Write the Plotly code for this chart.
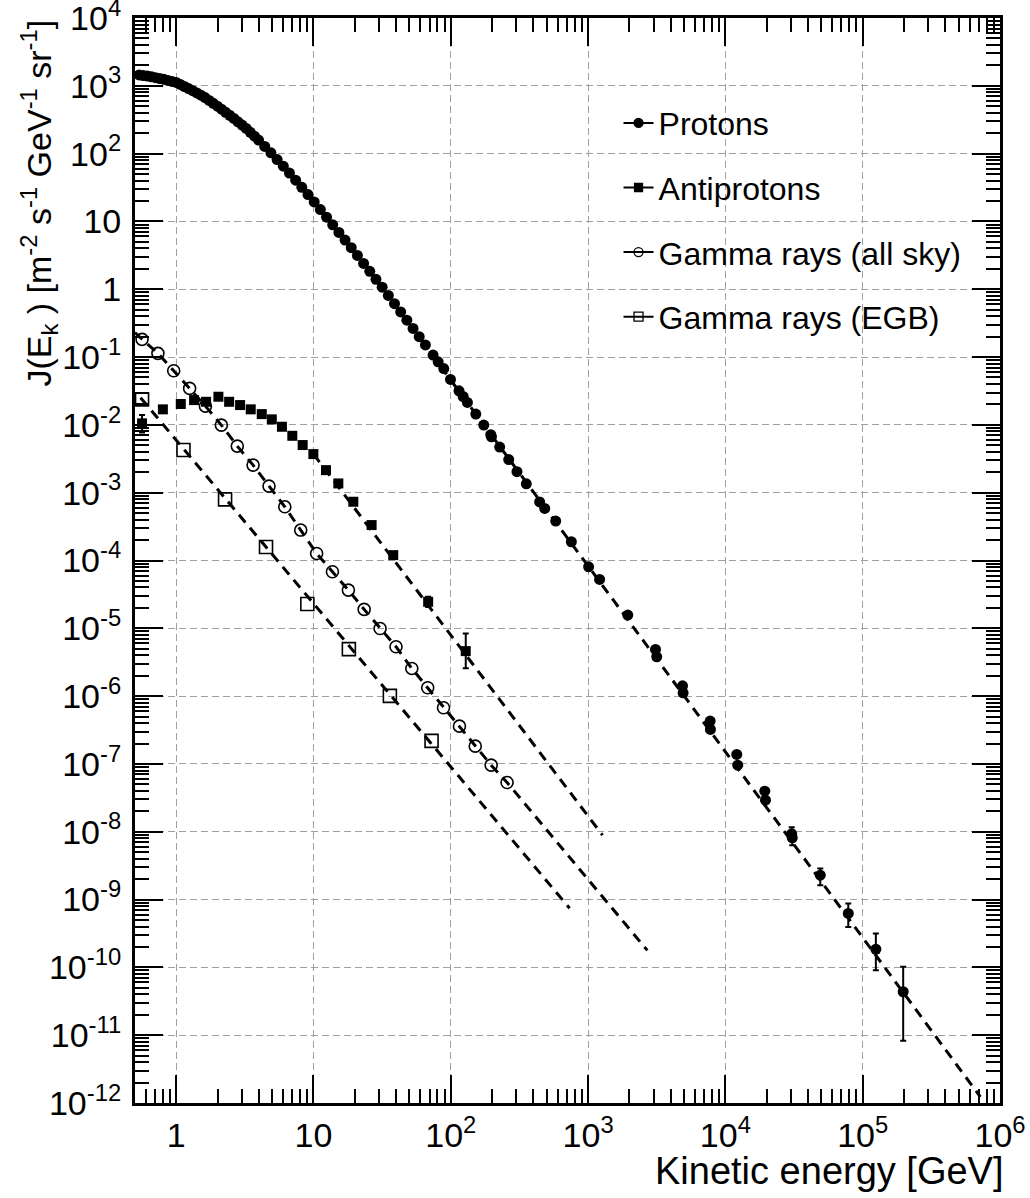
import plotly.graph_objects as go

# ---------------- Protons ----------------
# dense spectrum, 0.5 GeV - 2 TeV
p_E = [0.501, 0.537, 0.575, 0.617, 0.661, 0.708, 0.759, 0.813, 0.871, 0.933, 1.0, 1.072,
       1.148, 1.230, 1.318, 1.413, 1.514, 1.622, 1.738, 1.862, 1.995, 2.138, 2.291, 2.455,
       2.630, 2.818, 3.020, 3.236, 3.467, 3.715, 3.981,
       4.416, 4.898, 5.433, 6.026, 6.683, 7.413, 8.222, 9.120, 10.12, 11.22, 12.45, 13.80,
       15.31, 16.98, 18.84, 20.89, 23.17, 25.70, 28.51, 31.62, 35.08, 38.90, 43.15, 47.86,
       53.09, 58.88, 65.31,
       74.3, 80.9, 88.9, 99.5, 114.8, 123.0, 132.1, 152.1, 173.8, 195.4, 197.7, 227.0,
       264.2, 303.4, 354.8, 443.6, 483.0, 581.0, 755.0, 1009, 1213, 1945]
p_J = [1479, 1449, 1419, 1390, 1355, 1318, 1282, 1245, 1202, 1161, 1122, 1047,
       977, 912, 847, 785, 728, 670, 608, 552, 501, 452, 407, 367,
       330, 295, 264, 235, 206, 181, 158.5,
       127.5, 102.6, 81.8, 65.2, 51.6, 40.6, 31.9, 24.9, 19.4, 14.96, 11.55, 8.91,
       6.88, 5.31, 4.10, 3.15, 2.40, 1.837, 1.403, 1.072, 0.810, 0.612, 0.463, 0.350,
       0.2646, 0.200, 0.1512,
       0.107, 0.0851, 0.0676, 0.0468, 0.0318, 0.0262, 0.0214, 0.01445, 0.00995, 0.00716,
       0.00668, 0.00471, 0.00308, 0.00204, 0.00135, 7.3e-4, 5.86e-4, 3.81e-4, 1.89e-4,
       8.07e-5, 5.26e-5, 1.57e-5]

# high-energy measurements with uncertainties
ph_E = [3097, 3162, 4875, 4920, 7745, 7780, 12100, 12300, 19360, 19590, 30410, 30690,
        49090, 78520, 124700, 197200]
ph_J = [4.89e-6, 3.80e-6, 1.42e-6, 1.12e-6, 4.28e-7, 3.23e-7, 1.38e-7, 9.59e-8,
        3.97e-8, 2.92e-8, 9.33e-9, 8.13e-9, 2.29e-9, 6.24e-10, 1.85e-10, 4.37e-11]
ph_J_hi = [5.0e-6, 3.9e-6, 1.46e-6, 1.15e-6, 4.4e-7, 3.3e-7, 1.42e-7, 9.9e-8,
           4.1e-8, 3.0e-8, 1.17e-8, 9.2e-9, 2.88e-9, 8.77e-10, 3.16e-10, 1.02e-10]
ph_J_lo = [4.78e-6, 3.70e-6, 1.38e-6, 1.09e-6, 4.16e-7, 3.14e-7, 1.34e-7, 9.3e-8,
           3.85e-8, 2.84e-8, 8.5e-9, 6.3e-9, 1.62e-9, 3.95e-10, 9.1e-11, 8.3e-12]

# power-law fit to the proton spectrum
p_fit_E = [60, 7.2e5]
p_fit_J = [0.185, 1.23e-12]

# ---------------- Antiprotons ----------------
ap_E = [0.564, 0.80, 1.08, 1.35, 1.65, 2.03, 2.43, 2.92, 3.49, 4.20, 4.97, 5.89, 7.01,
        8.34, 9.98, 12.33, 15.17, 19.5, 26.5, 38.1, 68.4, 128.5]
ap_J = [0.01052, 0.01694, 0.0203, 0.0232, 0.0219, 0.0260, 0.0219, 0.0196, 0.01694,
        0.01442, 0.01205, 0.00938, 0.0069, 0.00504, 0.00371, 0.00215, 0.00137, 7.35e-4,
        3.33e-4, 1.20e-4, 2.46e-5, 4.61e-6]
ap_J_hi = [0.0140, 0.0186, 0.0218, 0.0244, 0.0229, 0.0270, 0.0227, 0.0203, 0.0175,
           0.0149, 0.01240, 0.00962, 0.00706, 0.00514, 0.00378, 0.00219, 0.00140, 7.5e-4,
           3.4e-4, 1.23e-4, 2.92e-5, 8.41e-6]
ap_J_lo = [0.0077, 0.0154, 0.0189, 0.0221, 0.0209, 0.0250, 0.0211, 0.0189, 0.0164,
           0.0140, 0.01170, 0.00914, 0.00674, 0.00494, 0.00364, 0.00211, 0.00134, 7.2e-4,
           3.26e-4, 1.17e-4, 2.07e-5, 2.57e-6]
ap_fit_E = [10, 1274]
ap_fit_J = [3.71e-3, 8.9e-9]

# ---------------- Gamma rays, all sky ----------------
ga_E = [0.564, 0.736, 0.959, 1.253, 1.633, 2.133, 2.786, 3.631, 4.742, 6.18, 8.07, 10.54,
        13.74, 17.95, 23.39, 30.55, 39.9, 52.0, 67.9, 88.5, 115.6, 150.7, 196.8, 257.0]
ga_J = [0.1824, 0.1135, 0.0628, 0.0345, 0.0189, 0.00993, 0.00486, 0.00255, 0.00125,
        6.19e-4, 2.81e-4, 1.27e-4, 6.82e-5, 3.66e-5, 1.90e-5, 9.95e-6, 5.35e-6, 2.56e-6,
        1.33e-6, 6.73e-7, 3.61e-7, 1.83e-7, 9.59e-8, 5.33e-8]
# model curve: follows the spectrum and extends to ~2.7 TeV
ga_fit_E = [0.5] + ga_E + [2700]
ga_fit_J = [0.229] + ga_J + [1.78e-10]

# ---------------- Gamma rays, extragalactic background ----------------
egb_E = [0.564, 1.13, 2.27, 4.51, 9.02, 18.1, 36.0, 72.4]
egb_J = [0.0238, 0.00425, 7.96e-4, 1.58e-4, 2.28e-5, 4.93e-6, 1.01e-6, 2.19e-7]
egb_fit_E = [0.55, 733]
egb_fit_J = [0.0252, 7.46e-10]

# ---------------- Axis ticks ----------------
x_tick_vals = [1, 10, 1e2, 1e3, 1e4, 1e5, 1e6]
x_tick_text = ["1", "10", "10<sup>2</sup>", "10<sup>3</sup>", "10<sup>4</sup>",
               "10<sup>5</sup>", "10<sup>6</sup>"]
y_tick_vals = [10.0 ** k for k in range(-12, 5)]
y_tick_text = ["10<sup>%d</sup>" % k for k in range(-12, -1)] + \
              ["10<sup>-1</sup>", "1", "10", "10<sup>2</sup>", "10<sup>3</sup>", "10<sup>4</sup>"]

FONT = "Liberation Sans, Arial, Helvetica, sans-serif"
BLACK = "black"
FIT_DASH = "10px,7px"

fig = go.Figure()


def fit_line(x, y):
    fig.add_trace(go.Scatter(x=x, y=y, mode="lines", showlegend=False, hoverinfo="skip",
                             line=dict(color=BLACK, width=3, dash=FIT_DASH)))


def err(y, hi, lo):
    return dict(type="data", symmetric=False,
                array=[h - v for h, v in zip(hi, y)],
                arrayminus=[v - l for v, l in zip(y, lo)],
                color=BLACK, thickness=2, width=3)


fit_line(p_fit_E, p_fit_J)
fit_line(ap_fit_E, ap_fit_J)
fit_line(ga_fit_E, ga_fit_J)
fit_line(egb_fit_E, egb_fit_J)

# data points
fig.add_trace(go.Scatter(x=p_E, y=p_J, mode="markers", showlegend=False, cliponaxis=False,
                         marker=dict(symbol="circle", size=11, color=BLACK)))
fig.add_trace(go.Scatter(x=ph_E, y=ph_J, mode="markers", showlegend=False, cliponaxis=False,
                         marker=dict(symbol="circle", size=11, color=BLACK),
                         error_y=err(ph_J, ph_J_hi, ph_J_lo)))
fig.add_trace(go.Scatter(x=ap_E, y=ap_J, mode="markers", showlegend=False, cliponaxis=False,
                         marker=dict(symbol="square", size=10, color=BLACK),
                         error_y=err(ap_J, ap_J_hi, ap_J_lo)))
fig.add_trace(go.Scatter(x=ga_E, y=ga_J, mode="markers", showlegend=False, cliponaxis=False,
                         marker=dict(symbol="circle-open", size=12, color=BLACK,
                                     line=dict(width=1.6, color=BLACK))))
fig.add_trace(go.Scatter(x=egb_E, y=egb_J, mode="markers", showlegend=False, cliponaxis=False,
                         marker=dict(symbol="square-open", size=13, color=BLACK,
                                     line=dict(width=1.6, color=BLACK))))

# legend entries
legend_items = [
    ("Protons", "circle", 9),
    ("Antiprotons", "square", 8),
    ("Gamma rays (all sky)", "circle-open", 9),
    ("Gamma rays (EGB)", "square-open", 9),
]
for i, (name, sym, size) in enumerate(legend_items):
    fig.add_trace(go.Scatter(x=[None], y=[None], mode="lines+markers", name=name,
                             legendgroup="g%d" % i,
                             line=dict(color=BLACK, width=2),
                             marker=dict(symbol=sym, size=size, color=BLACK,
                                         line=dict(width=1.3, color=BLACK))))

axis_common = dict(
    type="log", showline=True, linewidth=3, linecolor=BLACK, mirror="ticks",
    ticks="inside", ticklen=28, tickwidth=2, tickcolor=BLACK,
    showgrid=True, gridcolor="#a0a0a0", gridwidth=1, griddash="7px,4px",
    zeroline=False, tickfont=dict(size=34, family=FONT, color=BLACK),
    ticklabeloverflow="allow", automargin=False,
    minor=dict(ticks="inside", ticklen=14, tickwidth=2, tickcolor=BLACK,
               dtick="D1", showgrid=False),
)

fig.update_xaxes(range=[-0.30, 6], tickmode="array", tickvals=x_tick_vals,
                 ticktext=x_tick_text, **axis_common)
fig.update_yaxes(range=[-12, 4], tickmode="array", tickvals=y_tick_vals,
                 ticktext=y_tick_text, ticklabelstandoff=4, **axis_common)

fig.update_layout(
    width=1030, height=1198,
    margin=dict(l=135, r=30, t=18, b=95, autoexpand=False),
    paper_bgcolor="white", plot_bgcolor="white",
    font=dict(family=FONT, color=BLACK),
    legend=dict(x=0.559, y=0.9285, xanchor="left", yanchor="top",
                bgcolor="rgba(0,0,0,0)", borderwidth=0,
                font=dict(size=32, family=FONT, color=BLACK),
                tracegroupgap=20, traceorder="grouped"),
    annotations=[
        dict(text="Kinetic energy [GeV]", xref="paper", yref="paper",
             x=1.007, y=-0.0625, xanchor="right", yanchor="middle", showarrow=False,
             font=dict(size=38, family=FONT, color=BLACK)),
        dict(text="J(E<sub>k</sub> ) [m<sup>-2</sup> s<sup>-1</sup> GeV<sup>-1</sup> sr<sup>-1</sup>]",
             xref="paper", yref="paper", x=-0.1121, y=1.0, xanchor="center",
             yanchor="top", textangle=-90, showarrow=False,
             font=dict(size=34, family=FONT, color=BLACK)),
    ],
)

fig.write_html("out.html")
